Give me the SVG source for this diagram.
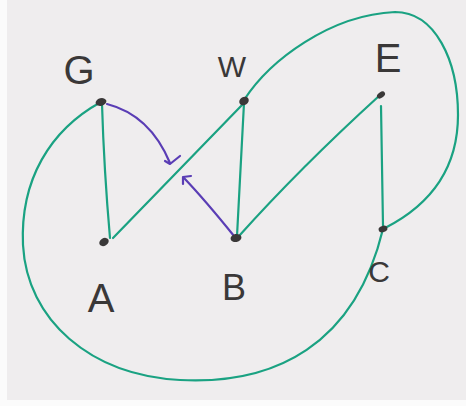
<svg xmlns="http://www.w3.org/2000/svg" width="466" height="406" viewBox="0 0 466 406">
<style>
.e{fill:none;stroke:#1aa282;stroke-width:2.2;stroke-linecap:round;stroke-linejoin:round}
.p{fill:none;stroke:#5a3db5;stroke-width:2.2;stroke-linecap:round;stroke-linejoin:round}
.d{fill:#3a3838}
.t{font-family:"Liberation Sans",Arial,sans-serif;fill:#3a3838;text-anchor:middle}
</style>
<rect x="0" y="0" width="466" height="406" fill="#fbfbfb"/>
<rect x="7" y="0" width="459" height="400" fill="#efedee"/>
<g id="connectors">
<path class="e" d="M102,104 Q104,170 110,238"/>
<path class="e" d="M113,238 L243,104"/>
<path class="e" d="M244,103 L237,236"/>
<path class="e" d="M239,236 Q300,168 379,96"/>
<path class="e" d="M381,106 L383,226"/>
<path class="e" d="M244,100 C270,60 330,15 395,12 C435,12 458,60 458,115 C458,170 430,205 385,228"/>
<path class="e" d="M101,102 C50,130 20,180 23,245 C27,320 90,375 180,380 C275,385 355,345 383,229"/>
<path class="p" d="M107,104 Q150,115 170,163"/>
<path class="p" d="M165,161 L170,164 L180,156"/>
<path class="p" d="M234,236 Q205,200 184,178"/>
<path class="p" d="M191,176 L183,177 L183,184"/>
</g>
<g id="G"><ellipse class="d" cx="101" cy="102" rx="5.5" ry="3.8" transform="rotate(-15 101 102)"/><text class="t" x="79" y="84" font-size="40">G</text></g>
<g id="W"><ellipse class="d" cx="244" cy="101" rx="5" ry="4" transform="rotate(-30 244 101)"/><text class="t" x="232" y="77" font-size="30">W</text></g>
<g id="E"><ellipse class="d" cx="381" cy="95" rx="4.5" ry="2.8" transform="rotate(-35 381 95)"/><text class="t" x="388" y="72" font-size="40">E</text></g>
<g id="A"><ellipse class="d" cx="104" cy="242" rx="5" ry="3.8" transform="rotate(-30 104 242)"/><text class="t" x="101" y="312" font-size="40">A</text></g>
<g id="B"><ellipse class="d" cx="236" cy="238" rx="5.5" ry="4" transform="rotate(-10 236 238)"/><text class="t" x="234" y="300" font-size="36">B</text></g>
<g id="C"><ellipse class="d" cx="383" cy="229" rx="4.5" ry="3.2" transform="rotate(-15 383 229)"/><text class="t" x="379" y="282" font-size="30">C</text></g>
</svg>
